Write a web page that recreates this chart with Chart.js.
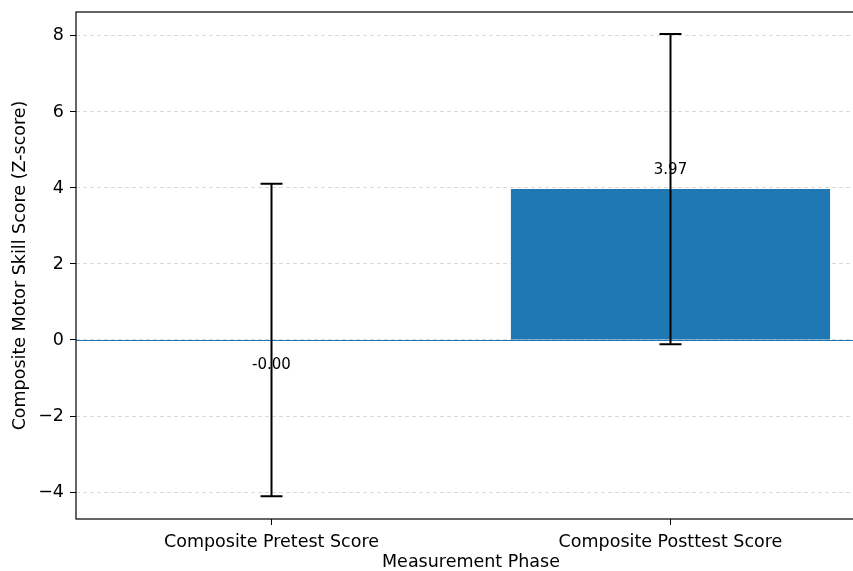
<!DOCTYPE html>
<html>
<head>
<meta charset="utf-8">
<script src="https://cdn.jsdelivr.net/npm/chart.js@4/dist/chart.umd.min.js"></script>
<style>
  html, body { margin: 0; padding: 0; overflow: hidden; background: #fff; }
  #wrap { width: 880px; height: 571px; }
</style>
</head>
<body>
<div id="wrap"><canvas id="scoreChart"></canvas></div>
<script>
// data
var categories = ["Composite Pretest Score", "Composite Posttest Score"];
var means = [-0.001, 3.97];
var errors = [4.11, 4.08];
var yTicks = [-4, -2, 0, 2, 4, 6, 8];

var barColor = "#1f77b4";
var font = "DejaVu Sans";
var fontSize = 17.5;

var points = categories.map(function (c, i) { return { x: i, y: means[i] }; });

// zero line, error bars, value labels, frame
var extras = {
  id: "extras",
  afterDatasetsDraw: function (chart) {
    var ctx = chart.ctx;
    var xs = chart.scales.x, ys = chart.scales.y;
    var area = chart.chartArea;

    ctx.save();
    // zero line
    var y0 = Math.round(ys.getPixelForValue(0)) + 0.5;
    ctx.strokeStyle = barColor;
    ctx.lineWidth = 1.2;
    ctx.beginPath();
    ctx.moveTo(area.left, y0);
    ctx.lineTo(area.right, y0);
    ctx.stroke();

    // error bars
    ctx.strokeStyle = "#000";
    ctx.lineWidth = 2;
    means.forEach(function (m, i) {
      var x = xs.getPixelForValue(i);
      var top = ys.getPixelForValue(m + errors[i]);
      var bot = ys.getPixelForValue(m - errors[i]);
      ctx.beginPath();
      ctx.moveTo(x, top); ctx.lineTo(x, bot);
      ctx.moveTo(x - 11, top); ctx.lineTo(x + 11, top);
      ctx.moveTo(x - 11, bot); ctx.lineTo(x + 11, bot);
      ctx.stroke();
    });

    // value labels
    ctx.fillStyle = "#000";
    ctx.font = "15px '" + font + "'";
    ctx.textAlign = "center";
    means.forEach(function (m, i) {
      var x = xs.getPixelForValue(i);
      if (m >= 0) {
        ctx.textBaseline = "bottom";
        ctx.fillText(m.toFixed(2), x, ys.getPixelForValue(m + 0.3));
      } else {
        ctx.textBaseline = "top";
        ctx.fillText(m.toFixed(2), x, ys.getPixelForValue(m - 0.45));
      }
    });

    // frame
    ctx.strokeStyle = "#000";
    ctx.lineWidth = 1.2;
    ctx.strokeRect(area.left, area.top, area.right - area.left, area.bottom - area.top);
    ctx.restore();
  }
};

new Chart("scoreChart", {
  type: "bar",
  data: {
    datasets: [
      {
        data: points,
        backgroundColor: barColor,
        categoryPercentage: 0.8,
        barPercentage: 1.0,
      },
    ],
  },
  options: {
    responsive: true,
    maintainAspectRatio: false,
    animation: false,
    layout: { padding: { top: 12, right: 14, left: 0, bottom: 0 } },
    plugins: {
      legend: { display: false },
      tooltip: { enabled: false },
    },
    scales: {
      x: {
        type: "linear",
        min: -0.49,
        max: 1.49,
        offset: false,
        afterBuildTicks: function (scale) {
          scale.ticks = categories.map(function (c, i) { return { value: i }; });
        },
        afterFit: function (scale) {
          scale.height = 52;
          scale.paddingLeft = 0;
          scale.paddingRight = 0;
        },
        ticks: {
          callback: function (v) { return categories[v]; },
          color: "#000",
          font: { family: font, size: fontSize },
          padding: 7,
          maxRotation: 0,
          autoSkip: false,
        },
        grid: {
          offset: false,
          drawOnChartArea: false,
          drawTicks: true,
          tickLength: 6,
          tickColor: "#000",
        },
        border: { display: false },
        title: {
          display: true,
          text: "Measurement Phase",
          color: "#000",
          font: { family: font, size: fontSize, lineHeight: 1.0 },
          padding: { top: 3, bottom: 0 },
        },
      },
      y: {
        min: -4.71,
        max: 8.63,
        afterBuildTicks: function (scale) {
          scale.ticks = yTicks.map(function (v) { return { value: v }; });
        },
        afterFit: function (scale) {
          scale.width = 76;
          scale.paddingTop = 0;
          scale.paddingBottom = 0;
        },
        ticks: {
          color: "#000",
          font: { family: font, size: fontSize },
          padding: 6,
          callback: function (v) { return v < 0 ? "\u2212" + Math.abs(v) : String(v); },
        },
        grid: {
          color: "rgba(176,176,176,0.6)",
          lineWidth: 0.8,
          tickLength: 6,
          tickColor: "#000",
          tickBorderDash: [],
          tickWidth: 1,
        },
        border: { display: false, dash: [4, 3] },
        title: {
          display: true,
          text: "Composite Motor Skill Score (Z-score)",
          color: "#000",
          font: { family: font, size: fontSize },
          padding: { top: 10, bottom: 0 },
        },
      },
    },
  },
  plugins: [extras],
});
</script>
</body>
</html>
